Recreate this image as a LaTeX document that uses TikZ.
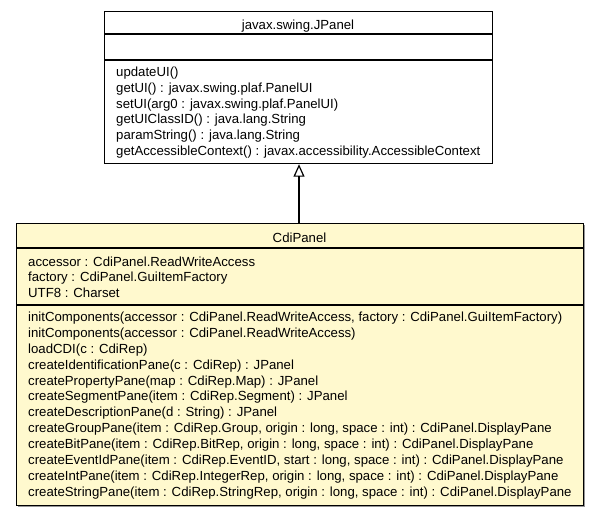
\documentclass[tikz,border=0pt]{standalone}
\usepackage{fontspec}
\setmainfont{Liberation Sans}
\usetikzlibrary{arrows.meta}
\definecolor{classfill}{RGB}{255,249,206}
\definecolor{shadowgray}{RGB}{150,150,150}

\begin{document}
\begin{tikzpicture}[x=1pt,y=-1pt,
  classbox/.style={draw=black, line width=1.2pt, inner sep=0pt, anchor=north west},
  divider/.style={draw=black, line width=1.2pt},
  member/.style={anchor=base west, inner sep=0pt, font=\fontsize{13.2}{15.8}\selectfont},
  classname/.style={anchor=base, inner sep=0pt, font=\fontsize{13.2}{15.8}\selectfont},
  extends/.style={line width=1.2pt, -{Triangle[open, length=12.5pt, width=11pt, line width=1.2pt]}}]

\useasboundingbox (0,0) rectangle (597,517);

% ---- superclass javax.swing.JPanel ----
\node[classbox, fill=white, minimum width=388pt, minimum height=152pt] (jpanel) at (104,11) {};
\draw[divider] (104,34) -- (492,34);
\draw[divider] (104,60) -- (492,60);
\node[classname] (jpanelname) at (298,29.3) {javax.swing.JPanel};
\foreach \m [count=\i from 0] in {
  {updateUI()},
  {getUI() : javax.swing.plaf.PanelUI},
  {setUI(arg0 : javax.swing.plaf.PanelUI)},
  {getUIClassID() : java.lang.String},
  {paramString() : java.lang.String},
  {getAccessibleContext() : javax.accessibility.AccessibleContext}}
  \node[member] (jpm\i) at (116,76.7+15.7*\i) {\m};

% ---- class CdiPanel ----
\fill[shadowgray] (18,225) rectangle (585,507);
\node[classbox, fill=classfill, minimum width=567pt, minimum height=282pt] (cdipanel) at (16,223) {};
\draw[divider] (16,248) -- (583,248);
\draw[divider] (16,305) -- (583,305);
\node[classname] (cdiname) at (299.5,242.5) {CdiPanel};
\foreach \m [count=\i from 0] in {
  {accessor : CdiPanel.ReadWriteAccess},
  {factory : CdiPanel.GuiItemFactory},
  {UTF8 : Charset}}
  \node[member] (cda\i) at (28,266+15.9*\i) {\m};
\foreach \m [count=\i from 0] in {
  {initComponents(accessor : CdiPanel.ReadWriteAccess, factory : CdiPanel.GuiItemFactory)},
  {initComponents(accessor : CdiPanel.ReadWriteAccess)},
  {loadCDI(c : CdiRep)},
  {createIdentificationPane(c : CdiRep) : JPanel},
  {createPropertyPane(map : CdiRep.Map) : JPanel},
  {createSegmentPane(item : CdiRep.Segment) : JPanel},
  {createDescriptionPane(d : String) : JPanel},
  {createGroupPane(item : CdiRep.Group, origin : long, space : int) : CdiPanel.DisplayPane},
  {createBitPane(item : CdiRep.BitRep, origin : long, space : int) : CdiPanel.DisplayPane},
  {createEventIdPane(item : CdiRep.EventID, start : long, space : int) : CdiPanel.DisplayPane},
  {createIntPane(item : CdiRep.IntegerRep, origin : long, space : int) : CdiPanel.DisplayPane},
  {createStringPane(item : CdiRep.StringRep, origin : long, space : int) : CdiPanel.DisplayPane}}
  \node[member] (cdm\i) at (28,321.7+15.85*\i) {\m};

% ---- generalization ----
\coordinate (axis) at (299,0);
\draw[extends] (cdipanel.north -| axis) -- (jpanel.south -| axis);
\end{tikzpicture}
\end{document}
